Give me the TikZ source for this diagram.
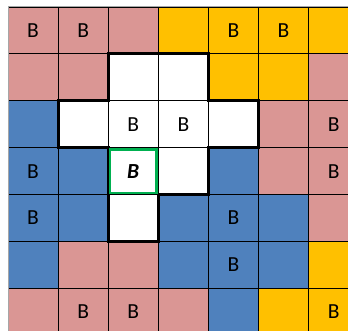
\documentclass[tikz,border=0pt]{standalone}
\usepackage{fontspec}
\setmainfont{Carlito}
\definecolor{pk}{HTML}{DA9694}
\definecolor{yl}{HTML}{FFC000}
\definecolor{bl}{HTML}{4F81BD}
\definecolor{wh}{HTML}{FFFFFF}
\definecolor{gr}{HTML}{00B050}
\tikzset{
  cellbox/.style={draw=black,line width=0.8pt,minimum width=50.1pt,minimum height=46.9pt,inner sep=0pt,outer sep=0pt,font=\fontsize{21.5}{23}\selectfont},
  thickline/.style={draw=black,line width=3pt,line join=miter},
  greenbox/.style={draw=gr,line width=2.6pt},
  edgeline/.style={draw=gray!70,line width=1pt}
}
\newcommand\cellx[4]{\node[cellbox,fill=#3] (c#1#2) at ({8+50.1*#2+25.05},{7+46.9*#1+23.45}) {#4};}
\begin{document}
\begin{tikzpicture}[x=1pt,y=-1pt]
\useasboundingbox (0,0) rectangle (348,331);
\fill[white] (0,0) rectangle (348,331);
\cellx{0}{0}{pk}{B}\cellx{0}{1}{pk}{B}\cellx{0}{2}{pk}{}\cellx{0}{3}{yl}{}\cellx{0}{4}{yl}{B}\cellx{0}{5}{yl}{B}\cellx{0}{6}{yl}{}
\cellx{1}{0}{pk}{}\cellx{1}{1}{pk}{}\cellx{1}{2}{wh}{}\cellx{1}{3}{wh}{}\cellx{1}{4}{yl}{}\cellx{1}{5}{yl}{}\cellx{1}{6}{pk}{}
\cellx{2}{0}{bl}{}\cellx{2}{1}{wh}{}\cellx{2}{2}{wh}{B}\cellx{2}{3}{wh}{B}\cellx{2}{4}{wh}{}\cellx{2}{5}{pk}{}\cellx{2}{6}{pk}{B}
\cellx{3}{0}{bl}{B}\cellx{3}{1}{bl}{}\cellx{3}{2}{wh}{\textbf{\textit{B}}}\cellx{3}{3}{wh}{}\cellx{3}{4}{bl}{}\cellx{3}{5}{pk}{}\cellx{3}{6}{pk}{B}
\cellx{4}{0}{bl}{B}\cellx{4}{1}{bl}{}\cellx{4}{2}{wh}{}\cellx{4}{3}{bl}{}\cellx{4}{4}{bl}{B}\cellx{4}{5}{bl}{}\cellx{4}{6}{pk}{}
\cellx{5}{0}{bl}{}\cellx{5}{1}{pk}{}\cellx{5}{2}{pk}{}\cellx{5}{3}{bl}{}\cellx{5}{4}{bl}{B}\cellx{5}{5}{bl}{}\cellx{5}{6}{yl}{}
\cellx{6}{0}{pk}{}\cellx{6}{1}{pk}{B}\cellx{6}{2}{pk}{B}\cellx{6}{3}{pk}{}\cellx{6}{4}{bl}{}\cellx{6}{5}{yl}{}\cellx{6}{6}{yl}{B}
\draw[edgeline] (c60.south west) -- (c00.north west) -- (c06.north east);
\draw[thickline] (c12.north west) -- (c13.north east) -- (c13.south east) -- (c24.north east) -- (c24.south east) -- (c33.north east) -- (c33.south east) -- (c42.north east) -- (c42.south east) -- (c42.south west) -- (c32.north west) -- (c21.south west) -- (c21.north west) -- (c22.north west) -- cycle;
\draw[greenbox] ([shift={(1.6,1.6)}]c32.north west) rectangle ([shift={(-1.6,-1.6)}]c32.south east);
\end{tikzpicture}
\end{document}
